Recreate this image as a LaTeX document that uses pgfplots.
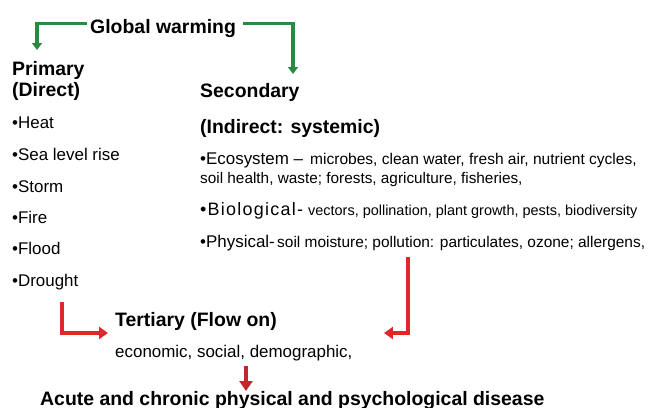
\documentclass[border=0pt]{standalone}
\usepackage{fontspec}
\setmainfont{Liberation Sans}
\usepackage{pgfplots}
\pgfplotsset{compat=1.18}
\usetikzlibrary{arrows.meta}
\definecolor{gwgreen}{HTML}{2B8A3E}
\definecolor{gwred}{HTML}{E3262B}
\definecolor{gwdred}{HTML}{C0282D}
\newcommand{\fbig}{\fontsize{19.5}{22}\selectfont\bfseries}
\newcommand{\fmid}{\fontsize{17}{20}\selectfont}
\newcommand{\fsz}[1]{\fontsize{#1}{17}\selectfont}
\begin{document}
\begin{tikzpicture}
\begin{axis}[
  width=649bp, height=408bp, scale only axis,
  xmin=0, xmax=649, ymin=0, ymax=408, y dir=reverse,
  hide axis, clip=false]
\coordinate (BL) at (axis cs:0,408);
\coordinate (TR) at (axis cs:649,0);
% arrows
\draw[gwgreen, line width=3.2pt, -{Triangle[length=7pt,width=10pt]}]
  (axis cs:87,23.5) -- (axis cs:37,23.5) -- (axis cs:37,50);
\draw[gwgreen, line width=3.2pt, -{Triangle[length=7pt,width=10pt]}]
  (axis cs:243,23.5) -- (axis cs:293,23.5) -- (axis cs:293,74);
\draw[gwred, line width=3.5pt, -{Triangle[length=9pt,width=12pt]}]
  (axis cs:62,302) -- (axis cs:62,333) -- (axis cs:108,333);
\draw[gwred, line width=3.5pt, -{Triangle[length=9pt,width=12pt]}]
  (axis cs:408,257) -- (axis cs:408,333) -- (axis cs:384,333);
\draw[gwdred, line width=3.5pt, -{Triangle[length=10pt,width=13pt]}]
  (axis cs:246,366) -- (axis cs:246,391);
% headings
\node[anchor=base west, inner sep=0] at (axis cs:90,33) {\fbig Global warming};
\node[anchor=base west, inner sep=0] at (axis cs:12,75) {\fbig Primary};
\node[anchor=base west, inner sep=0] at (axis cs:12,96) {\fbig (Direct)};
\node[anchor=base west, inner sep=0] at (axis cs:200,97) {\fbig Secondary};
\node[anchor=base west, inner sep=0] at (axis cs:200,133) {\fbig (Indirect: systemic)};
% primary items
\node[anchor=base west, inner sep=0] at (axis cs:12,128) {\fmid •Heat};
\node[anchor=base west, inner sep=0] at (axis cs:12,160) {\fmid •Sea level rise};
\node[anchor=base west, inner sep=0] at (axis cs:12,192) {\fmid •Storm};
\node[anchor=base west, inner sep=0] at (axis cs:12,223) {\fmid •Fire};
\node[anchor=base west, inner sep=0] at (axis cs:12,254) {\fmid •Flood};
\node[anchor=base west, inner sep=0] at (axis cs:12,286) {\fmid •Drought};
% secondary items
\node[anchor=base west, inner sep=0] at (axis cs:200,164) {\fmid •Ecosystem –};
\node[anchor=base west, inner sep=0] at (axis cs:310,164) {\fsz{15.6}microbes, clean water, fresh air, nutrient cycles,};
\node[anchor=base west, inner sep=0] at (axis cs:200,183) {\fsz{15.4}soil health, waste; forests, agriculture, fisheries,};
\node[anchor=base west, inner sep=0] at (axis cs:200,215) {\fontsize{18}{20}\selectfont\addfontfeature{LetterSpace=7}•Biological-};
\node[anchor=base west, inner sep=0] at (axis cs:308,215) {\fsz{14.5}vectors, pollination, plant growth, pests, biodiversity};
\node[anchor=base west, inner sep=0] at (axis cs:200,247) {\fmid •Physical-};
\node[anchor=base west, inner sep=0] at (axis cs:277,247) {\fsz{15.5}soil moisture; pollution: particulates, ozone; allergens,};
% tertiary
\node[anchor=base west, inner sep=0] at (axis cs:115,326) {\fbig Tertiary (Flow on)};
\node[anchor=base west, inner sep=0] at (axis cs:115,357) {\fmid economic, social, demographic,};
\node[anchor=base west, inner sep=0] at (axis cs:40,405) {\fbig Acute and chronic physical and psychological disease};
\end{axis}
\pgfresetboundingbox
\path[use as bounding box] (BL) rectangle (TR);
\end{tikzpicture}
\end{document}
